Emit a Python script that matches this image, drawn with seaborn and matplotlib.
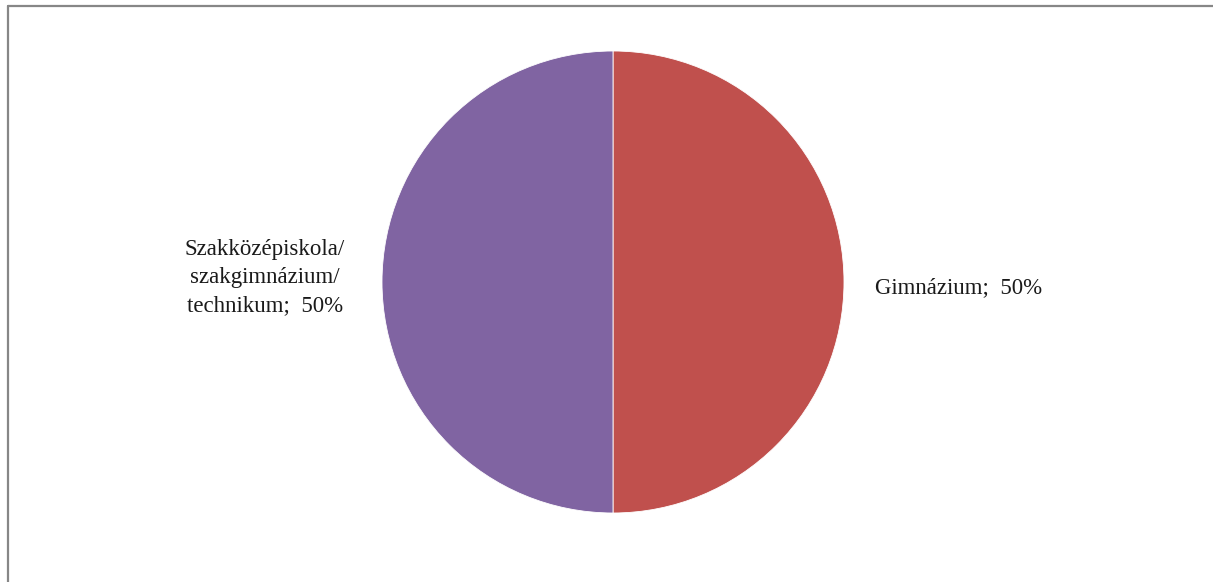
import matplotlib
matplotlib.use("Agg")
import matplotlib.pyplot as plt
import seaborn as sns
from matplotlib.lines import Line2D

# data
categories = ["Gimnázium", "Szakközépiskola/\nszakgimnázium/\ntechnikum"]
shares = [50, 50]
colors = ["#C0504D", "#8064A2"]

sns.set_theme(style="white")
plt.rcParams['font.family'] = ['Liberation Serif', 'DejaVu Serif']

fig = plt.figure(figsize=(12.13, 5.82), dpi=100)
ax = fig.add_axes([382 / 1213, 69 / 582, 462 / 1213, 462 / 582])

ax.pie(shares, colors=colors, startangle=90, counterclock=False,
       wedgeprops=dict(linewidth=0.6, edgecolor="white"))
ax.set_xlim(-1, 1)
ax.set_ylim(-1, 1)
ax.set_aspect("equal")
ax.axis("off")

# slice labels
ax.text(1.134, -0.026, f"{categories[0]};  {shares[0]}%", ha="left", va="center",
        fontsize=16.5, color="#1a1a1a")
ax.text(-1.508, 0.02, f"{categories[1]};  {shares[1]}%", ha="center", va="center",
        fontsize=16.5, color="#1a1a1a", linespacing=1.43)

# chart frame (top and left edge visible)
fig.add_artist(Line2D([8 / 1213, 1.0], [1 - 6 / 582, 1 - 6 / 582],
                      transform=fig.transFigure, color="#878787", linewidth=1.6))
fig.add_artist(Line2D([8 / 1213, 8 / 1213], [0.0, 1 - 6 / 582],
                      transform=fig.transFigure, color="#878787", linewidth=1.6))

fig.savefig("out.png", dpi=100, facecolor="white")
